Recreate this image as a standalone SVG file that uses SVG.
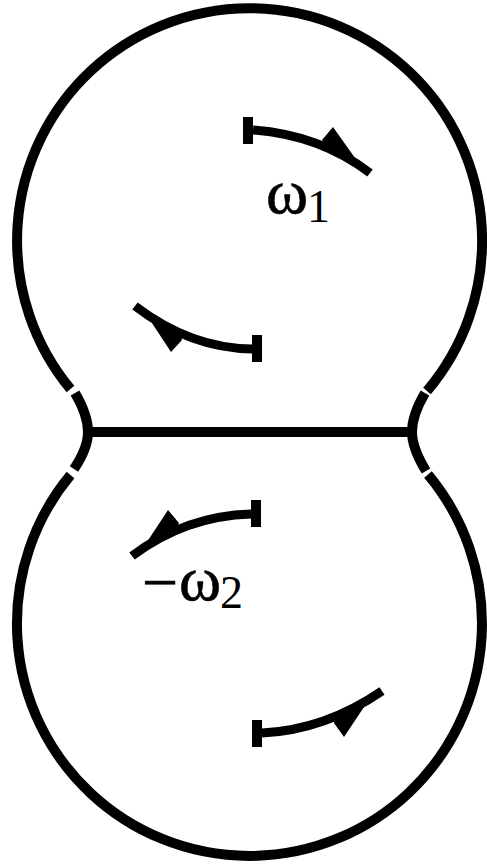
<svg xmlns="http://www.w3.org/2000/svg" width="487" height="865" viewBox="0 0 487 865">
<style>
.o{fill:none;stroke:#000;stroke-width:10}
.a{fill:none;stroke:#000;stroke-width:9}
.h{fill:#000;stroke:none}
.t{font-family:"Liberation Serif","Times New Roman",serif;fill:#000}
.w{font-size:64px;stroke:#000;stroke-width:.6}
.s{font-size:46px}
</style>
<rect width="487" height="865" fill="#fff"/>
<g id="outline">
<path class="o" d="M70.5 389A232.5 232.5 0 1 1 427 391"/>
<path class="o" d="M70.5 475A232.5 232.5 0 1 0 428 474.5"/>
<path class="o" d="M75 393Q88 415 88 432Q88 448 74 469"/>
<path class="o" d="M425 393Q412 415 412 432Q412 448 426 471"/>
<path class="o" d="M88 432H412"/>
</g>
<g id="connectors">
<g id="arrow-1">
<path class="a" d="M253 130Q320 135 370 173"/>
<rect class="h" x="243" y="117" width="10" height="27"/>
<polygon class="h" points="333,127 322,140 327,148 349,159 360,165"/>
</g>
<g id="arrow-2">
<path class="a" d="M252 349Q190 348 135 306"/>
<rect class="h" x="252" y="335" width="10" height="27"/>
<polygon class="h" points="171,352 182,340 180,333 157,321 146,314"/>
</g>
<g id="arrow-3">
<path class="a" d="M251 514Q185 516 132 556"/>
<rect class="h" x="251" y="500" width="10" height="27"/>
<polygon class="h" points="168,510 179,523 176,530 154,541 143,548"/>
</g>
<g id="arrow-4">
<path class="a" d="M262 733Q325 730 382 691"/>
<rect class="h" x="252" y="720" width="10" height="27"/>
<polygon class="h" points="344,737 334,723 335,716 359,705 370,698"/>
</g>
</g>
<g id="label-1">
<text class="t"><tspan class="w" x="266" y="213">ω</tspan><tspan class="s" x="307" y="222">1</tspan></text>
</g>
<g id="label-2">
<text class="t"><tspan class="w" x="142" y="604">−</tspan><tspan class="w" x="179" y="600">ω</tspan><tspan class="s" x="220" y="608">2</tspan></text>
</g>
</svg>
